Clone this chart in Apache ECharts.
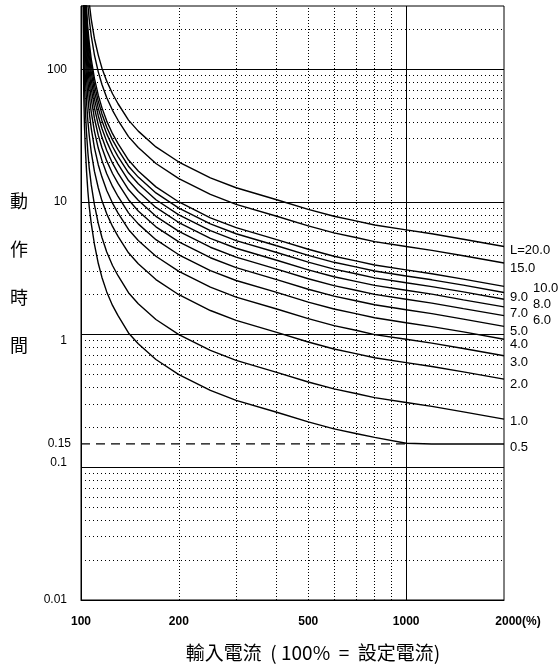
<!DOCTYPE html>
<html><head><meta charset="utf-8">
<script src="https://cdn.jsdelivr.net/npm/echarts@6/dist/echarts.min.js"></script>
<style>html,body{margin:0;padding:0;background:#fff}#c{width:559px;height:665px}</style>
</head><body><div id="c"></div>
<script>
// Input current (% of setting)
const currentPct = [101.6, 101.8, 102, 102.5, 103, 104, 105, 106, 107.5, 110, 113, 116, 120, 125, 130, 140, 150, 170, 200, 250, 300, 400, 500, 600, 700, 800, 1000, 1200, 1500, 2000];
// Operating time (s) for each L setting
const L0_5 = [320, 100, 62, 37, 27, 17, 12, 9.2, 6.9, 4.8, 3.45, 2.7, 2.1, 1.66, 1.39, 1.03, 0.855, 0.65, 0.5, 0.38, 0.32, 0.26, 0.22, 0.195, 0.18, 0.168, 0.152, 0.15, 0.15, 0.15];
const L1_0 = [700, 250, 150, 78, 53, 33, 23.5, 18, 13.5, 9.5, 6.9, 5.4, 4.2, 3.32, 2.78, 2.07, 1.71, 1.30, 1.0, 0.76, 0.64, 0.52, 0.44, 0.39, 0.36, 0.335, 0.308, 0.288, 0.262, 0.231];
const L2_0 = [1400, 467, 281, 141, 93.9, 56.6, 40.6, 31.7, 23.9, 17.0, 12.8, 10.2, 8.14, 6.54, 5.5, 4.14, 3.42, 2.6, 2.0, 1.52, 1.28, 1.04, 0.88, 0.78, 0.72, 0.67, 0.616, 0.576, 0.524, 0.462];
const L3_0 = [2100, 701, 421, 211, 141, 84.9, 60.9, 47.6, 35.9, 25.6, 19.1, 15.4, 12.2, 9.81, 8.25, 6.21, 5.13, 3.9, 3.0, 2.28, 1.92, 1.56, 1.32, 1.17, 1.08, 1.0, 0.924, 0.864, 0.786, 0.693];
const L4_0 = [2800, 934, 561, 281, 188, 113, 81.2, 63.4, 47.8, 34.1, 25.5, 20.5, 16.3, 13.1, 11.0, 8.28, 6.84, 5.2, 4.0, 3.04, 2.56, 2.08, 1.76, 1.56, 1.44, 1.34, 1.23, 1.15, 1.05, 0.924];
const L5_0 = [3500, 1168, 702, 352, 235, 142, 102, 79.3, 59.8, 42.6, 31.9, 25.6, 20.4, 16.4, 13.8, 10.4, 8.55, 6.5, 5.0, 3.8, 3.2, 2.6, 2.2, 1.95, 1.8, 1.68, 1.54, 1.44, 1.31, 1.155];
const L6_0 = [4200, 1402, 842, 422, 282, 170, 122, 95.1, 71.8, 51.1, 38.3, 30.7, 24.4, 19.6, 16.5, 12.4, 10.3, 7.8, 6.0, 4.56, 3.84, 3.12, 2.64, 2.34, 2.16, 2.01, 1.85, 1.73, 1.57, 1.39];
const L7_0 = [4900, 1635, 982, 492, 329, 198, 142, 111, 83.7, 59.6, 44.7, 35.8, 28.5, 22.9, 19.3, 14.5, 12.0, 9.1, 7.0, 5.32, 4.48, 3.64, 3.08, 2.73, 2.52, 2.35, 2.16, 2.02, 1.83, 1.62];
const L8_0 = [5600, 1869, 1122, 562, 376, 226, 162, 127, 95.7, 68.2, 51.0, 41.0, 32.6, 26.2, 22.0, 16.6, 13.7, 10.4, 8.0, 6.08, 5.12, 4.16, 3.52, 3.12, 2.88, 2.68, 2.46, 2.30, 2.10, 1.85];
const L9_0 = [6300, 2102, 1263, 633, 423, 255, 183, 143, 108, 76.7, 57.4, 46.1, 36.6, 29.4, 24.8, 18.6, 15.4, 11.7, 9.0, 6.84, 5.76, 4.68, 3.96, 3.51, 3.24, 3.02, 2.77, 2.59, 2.36, 2.08];
const L10_0 = [7000, 2336, 1403, 703, 470, 283, 203, 159, 120, 85.2, 63.8, 51.2, 40.7, 32.7, 27.5, 20.7, 17.1, 13.0, 10.0, 7.6, 6.4, 5.2, 4.4, 3.9, 3.6, 3.35, 3.08, 2.88, 2.62, 2.31];
const L15_0 = [10500, 3504, 2105, 1055, 704, 425, 305, 238, 179, 128, 95.7, 76.8, 61.1, 49.1, 41.3, 31.1, 25.7, 19.5, 15.0, 11.4, 9.6, 7.8, 6.6, 5.85, 5.4, 5.03, 4.62, 4.32, 3.93, 3.47];
const L20_0 = [14000, 4672, 2806, 1406, 939, 566, 406, 317, 239, 170, 128, 102, 81.4, 65.4, 55.0, 41.4, 34.2, 26.0, 20.0, 15.2, 12.8, 10.4, 8.8, 7.8, 7.2, 6.7, 6.16, 5.76, 5.24, 4.62];

const curveLabels = ['0.5', '1.0', '2.0', '3.0', '4.0', '5.0', '6.0', '7.0', '8.0', '9.0', '10.0', '15.0', 'L=20.0'];
const curveValues = [L0_5, L1_0, L2_0, L3_0, L4_0, L5_0, L6_0, L7_0, L8_0, L9_0, L10_0, L15_0, L20_0];

const xTickValues = [100, 200, 500, 1000, 2000];
const yTickValues = [0.01, 0.1, 1, 10, 100];
const majorGridY = [0.1, 1, 10, 100];
const minorGridY = [0.02, 0.03, 0.04, 0.05, 0.06, 0.07, 0.08, 0.09, 0.2, 0.3, 0.4, 0.5, 0.6, 0.7, 0.8, 0.9, 2, 3, 4, 5, 6, 7, 8, 9, 20, 30, 40, 50, 60, 70, 80, 90, 200];
const minorGridX = [200, 300, 400, 500, 600, 700, 800, 900];
const majorGridX = [1000];
const refLineX = [100, 1000];
const refLineValue = 0.15;

// label placement tweaks (pixels)
const labelOffsets = {
  '0.5': [0, 3], '1.0': [0, 2], '2.0': [0, 5], '3.0': [0, 7], '4.0': [0, 5], '5.0': [0, 5],
  '6.0': [23, 5], '7.0': [0, 7], '8.0': [23, 5], '9.0': [0, 5], '10.0': [23, 2], '15.0': [0, 5], 'L=20.0': [0, 4]
};

const FONT = '"Liberation Sans", Arial, sans-serif';
const CJK = '"Noto Sans CJK TC", "Noto Sans CJK SC", sans-serif';

const chart = echarts.init(document.getElementById('c'), null, {renderer: 'canvas'});

const gridLines = [];
majorGridY.forEach(v => gridLines.push({yAxis: v, lineStyle: {type: 'solid', width: 1, color: '#000'}}));
minorGridY.forEach(v => gridLines.push({yAxis: v, lineStyle: {type: [1, 3], width: 1, color: '#000'}}));
minorGridX.forEach(v => gridLines.push({xAxis: v, lineStyle: {type: [1, 2], width: 1, color: '#000'}}));
majorGridX.forEach(v => gridLines.push({xAxis: v, lineStyle: {type: 'solid', width: 1, color: '#000'}}));

const series = [{
  type: 'line',
  name: 'ref',
  data: refLineX.map(x => [x, refLineValue]),
  symbol: 'none',
  lineStyle: {color: '#000', width: 1.3, type: [9, 6]},
  z: 1,
  silent: true,
  markLine: {
    silent: true,
    symbol: ['none', 'none'],
    label: {show: false},
    animation: false,
    data: gridLines
  }
}];

curveValues.forEach((vals, k) => {
  const lab = curveLabels[k];
  series.push({
    type: 'line',
    name: lab,
    data: currentPct.map((x, i) => [x, vals[i]]),
    symbol: 'none',
    clip: true,
    z: 3,
    lineStyle: {color: '#000', width: 1.4},
    endLabel: {
      show: true,
      formatter: lab,
      color: '#000',
      fontFamily: FONT,
      fontSize: 13,
      distance: 6,
      align: 'left',
      verticalAlign: 'middle',
      offset: labelOffsets[lab]
    }
  });
});

function fmtY(v) {
  const r = +(+v).toPrecision(3);
  if (r === 0.1) return '{u|0.1}';
  if (r === 1) return '{d|1}';
  return '{n|' + String(r) + '}';
}

chart.setOption({
  animation: false,
  backgroundColor: '#fff',
  grid: {left: 81, right: 55, top: 6, bottom: 65, show: true, borderColor: '#000', borderWidth: 1},
  xAxis: {
    type: 'log', logBase: 10, min: 100, max: 2000,
    axisLine: {show: true, lineStyle: {color: '#000'}},
    axisTick: {show: false},
    splitLine: {show: false},
    minorTick: {show: false},
    axisLabel: {
      customValues: xTickValues,
      margin: 16, color: '#000', fontFamily: FONT, fontSize: 12, fontWeight: 'bold',
      formatter: v => {
        const r = Math.round(v);
        if (r === 2000) return '{p|2000(%)}';
        return String(r);
      },
      rich: {p: {padding: [0, 0, 0, 28], color: '#000', fontFamily: FONT, fontSize: 12, fontWeight: 'bold'}}
    }
  },
  yAxis: {
    type: 'log', logBase: 10, min: 0.01, max: 300,
    axisLine: {show: true, lineStyle: {color: '#000'}},
    axisTick: {show: false},
    splitLine: {show: false},
    axisLabel: {
      customValues: yTickValues,
      margin: 14, color: '#000', fontFamily: FONT, fontSize: 12,
      formatter: fmtY,
      rich: {
        n: {color: '#000', fontFamily: FONT, fontSize: 12},
        u: {color: '#000', fontFamily: FONT, fontSize: 12, padding: [0, 0, 10, 0]},
        d: {color: '#000', fontFamily: FONT, fontSize: 12, padding: [12, 0, 0, 0]}
      }
    }
  },
  series: series
});

const y015 = chart.convertToPixel({yAxisIndex: 0}, refLineValue);
chart.setOption({
  graphic: [
    {type: 'text', left: 10, top: 177, silent: true,
     style: {text: '動\n作\n時\n間', font: '18px ' + CJK, lineHeight: 48, fill: '#000', textAlign: 'center'}},
    {type: 'text', x: 313, y: 653, silent: true,
     style: {text: '輸入電流  ( 100%  =  設定電流)', font: '19px ' + CJK, fill: '#000', textAlign: 'center', textVerticalAlign: 'middle'}},
    {type: 'text', x: 71, y: y015, silent: true,
     style: {text: '0.15', font: '12px ' + FONT, fill: '#000', textAlign: 'right', textVerticalAlign: 'middle'}}
  ]
});
</script>
</body></html>
